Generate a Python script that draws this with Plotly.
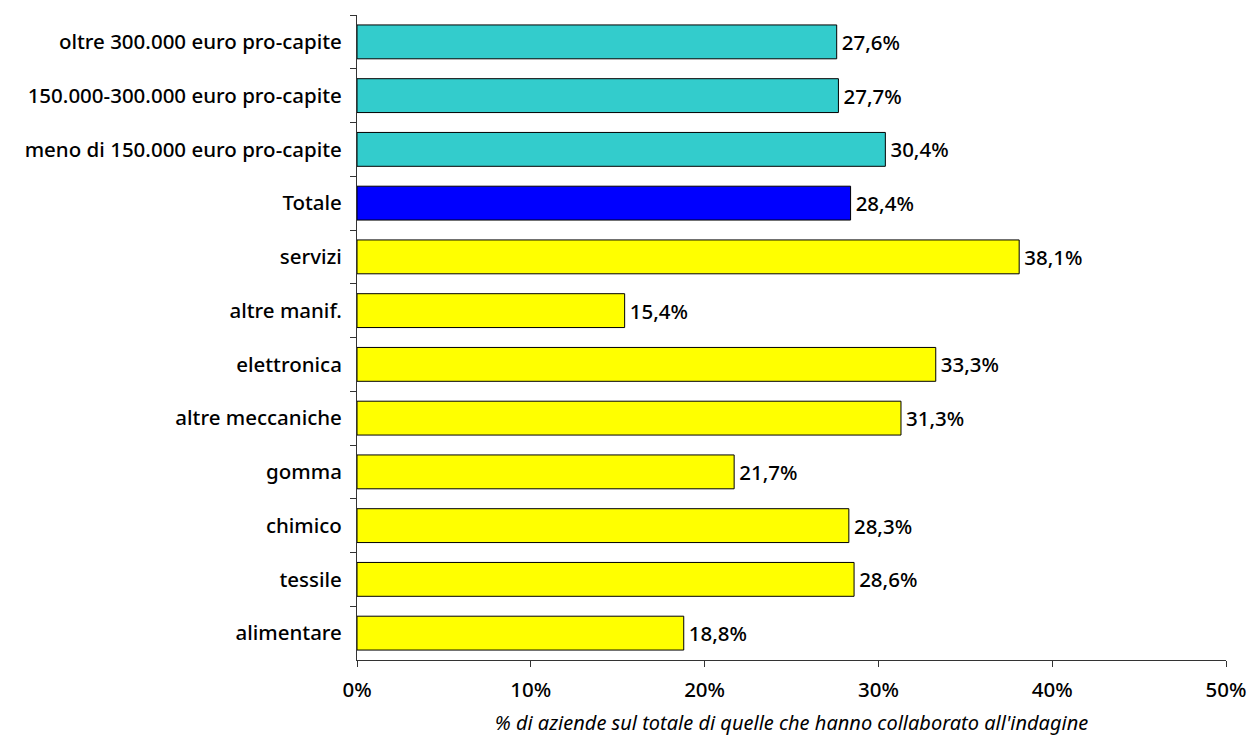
import plotly.graph_objects as go

# Categories listed top to bottom
categories = [
    "oltre 300.000 euro pro-capite",
    "150.000-300.000 euro pro-capite",
    "meno di 150.000 euro pro-capite",
    "Totale",
    "servizi",
    "altre manif.",
    "elettronica",
    "altre meccaniche",
    "gomma",
    "chimico",
    "tessile",
    "alimentare",
]
values = [27.6, 27.7, 30.4, 28.4, 38.1, 15.4, 33.3, 31.3, 21.7, 28.3, 28.6, 18.8]
groups = ["size", "size", "size", "total"] + ["sector"] * 8

group_colors = {"size": "#33CCCC", "total": "#0000FF", "sector": "#FFFF00"}
x_ticks = [0, 10, 20, 30, 40, 50]
x_ticktext = [f"{t}%" for t in x_ticks]

labels = ["\u200a" + f"{v:.1f}".replace(".", ",") + "%" for v in values]

FONT = "Noto Sans, sans-serif"
WEIGHT = 500
SIZE = 20.5

fig = go.Figure(
    go.Bar(
        x=values,
        y=categories,
        orientation="h",
        marker=dict(color=[group_colors[g] for g in groups],
                    line=dict(color="black", width=1)),
        text=labels,
        textposition="outside",
        textfont=dict(family=FONT, size=SIZE, color="black", weight=WEIGHT),
        cliponaxis=False,
        width=0.63,
    )
)

fig.update_layout(
    width=1250,
    height=736,
    margin=dict(l=357, r=24, t=15, b=76),
    paper_bgcolor="white",
    plot_bgcolor="white",
    font=dict(family=FONT, size=SIZE, color="black"),
    showlegend=False,
    separators=",.",
)

fig.update_xaxes(
    range=[0, 50],
    tickvals=x_ticks,
    ticktext=x_ticktext,
    automargin=False,
    showgrid=False,
    zeroline=False,
    showline=True,
    linecolor="#333333",
    linewidth=1,
    ticks="outside",
    ticklen=6,
    tickcolor="#333333",
    tickfont=dict(family=FONT, size=SIZE, weight=WEIGHT),
    ticklabelstandoff=5,
    title=dict(text="% di aziende sul totale di quelle che hanno collaborato all'indagine",
               font=dict(family=FONT, size=20, style="italic"), standoff=15),
)

fig.update_yaxes(
    autorange="reversed",
    automargin=False,
    showgrid=False,
    showline=True,
    linecolor="#333333",
    linewidth=1,
    ticks="outside",
    tickson="boundaries",
    ticklen=6,
    tickcolor="#333333",
    tickfont=dict(family=FONT, size=SIZE, weight=WEIGHT),
    ticklabelstandoff=10,
)

fig.write_html("out.html")
